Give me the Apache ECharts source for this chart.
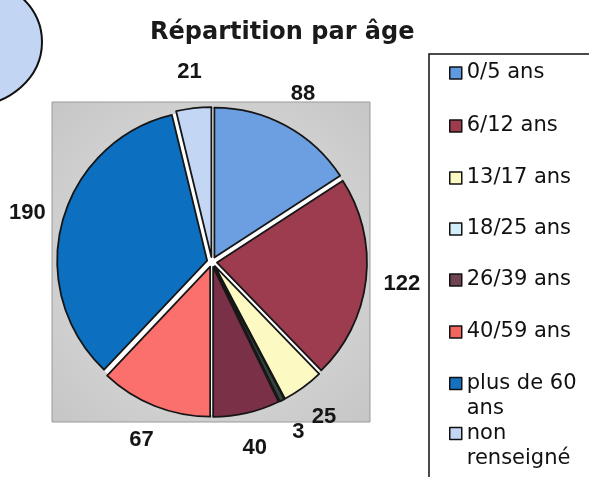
<!DOCTYPE html>
<html>
<head>
<meta charset="utf-8">
<script src="https://cdn.jsdelivr.net/npm/echarts@6/dist/echarts.min.js"></script>
<style>html,body{margin:0;padding:0;background:#fff}#c{width:589px;height:477px}</style>
</head>
<body>
<div id="c"></div>
<script>
const categories = ['0/5 ans', '6/12 ans', '13/17 ans', '18/25 ans', '26/39 ans', '40/59 ans', 'plus de 60 ans', 'non renseigné'];
const values = [88, 122, 25, 3, 40, 67, 190, 21];
const legendLabels = ['0/5 ans', '6/12 ans', '13/17 ans', '18/25 ans', '26/39 ans', '40/59 ans', 'plus de 60\nans', 'non\nrenseigné'];
const titleText = 'Répartition par âge';

const sliceColors = ['#6b9fe2', '#9d3c4f', '#fdf9c2', '#34463f', '#7a3046', '#fb706c', '#0c6fc0', '#c3d7f5'];
const legendIconColors = ['#5f9ae0', '#9d3c4f', '#fdf9c2', '#d2eef8', '#6e4450', '#f0665f', '#1572c0', '#c3d7f5'];
const legendCenters = [73, 126, 178, 229, 280, 332, 383, 433];

const chart = echarts.init(document.getElementById('c'), null, {renderer: 'canvas'});
const FONT = 'Liberation Sans, Arial, sans-serif';
const WIDE = 'DejaVu Sans, sans-serif';
const CX = 212, CY = 262, R = 150;

const legends = categories.map((name, i) => {
  const twoLine = legendLabels[i].indexOf('\n') >= 0;
  return {
    orient: 'vertical',
    left: 449,
    top: twoLine ? legendCenters[i] - 37 : legendCenters[i] - 12,
    padding: 0,
    icon: 'rect',
    itemWidth: 12,
    itemHeight: 12,
    selectedMode: false,
    itemStyle: {borderColor: '#111', borderWidth: 1.5},
    // a leading empty line keeps the icon level with the first text line
    formatter: () => (twoLine ? '\n' : '') + legendLabels[i],
    textStyle: {fontFamily: WIDE, fontSize: 21, color: '#111', lineHeight: twoLine ? 25 : 24},
    data: [{name: name, itemStyle: {color: legendIconColors[i]}}]
  };
});

chart.setOption({
  animation: false,
  title: {
    text: titleText,
    left: 150,
    top: 21,
    padding: 0,
    textStyle: {fontFamily: WIDE, fontSize: 24, fontWeight: 'bold', color: '#1a1a1a'}
  },
  legend: legends,
  graphic: [
    {type: 'rect', z: -10, shape: {x: 52, y: 102, width: 318, height: 320},
     style: {fill: {type: 'radial', x: 0.5, y: 0.5, r: 0.7,
       colorStops: [{offset: 0, color: '#e4e4e4'}, {offset: 1, color: '#c6c6c6'}]},
       stroke: '#9a9a9a', lineWidth: 1}},
    {type: 'circle', z: -9, shape: {cx: CX, cy: CY, r: R + 3}, style: {fill: '#ffffff'}},
    {type: 'ellipse', z: -8, shape: {cx: -30, cy: 42, rx: 72, ry: 64},
     style: {fill: '#c2d5f2', stroke: '#111', lineWidth: 2}},
    {type: 'rect', z: -8, shape: {x: 429, y: 54, width: 200, height: 450},
     style: {fill: '#fff', stroke: '#111', lineWidth: 1.5}}
  ],
  series: [
    {
      type: 'pie',
      center: [CX, CY],
      radius: [0, R],
      startAngle: 90,
      clockwise: true,
      selectedMode: 'multiple',
      selectedOffset: 5,
      silent: true,
      label: {show: false},
      labelLine: {show: false},
      emphasis: {disabled: true},
      itemStyle: {borderColor: '#161616', borderWidth: 1.8},
      data: categories.map((name, i) => ({
        name: name, value: values[i], selected: true,
        itemStyle: {color: sliceColors[i]}
      }))
    },
    {
      type: 'pie',
      center: [CX, CY],
      radius: [178, 198],
      startAngle: 90,
      clockwise: true,
      silent: true,
      emphasis: {disabled: true},
      itemStyle: {color: 'rgba(0,0,0,0)', borderWidth: 0},
      labelLine: {show: false},
      label: {show: true, position: 'inside', formatter: '{c}',
        fontFamily: FONT, fontSize: 22, fontWeight: 'bold', color: '#151515'},
      data: categories.map((name, i) => ({name: name, value: values[i]}))
    }
  ]
});
</script>
</body>
</html>
